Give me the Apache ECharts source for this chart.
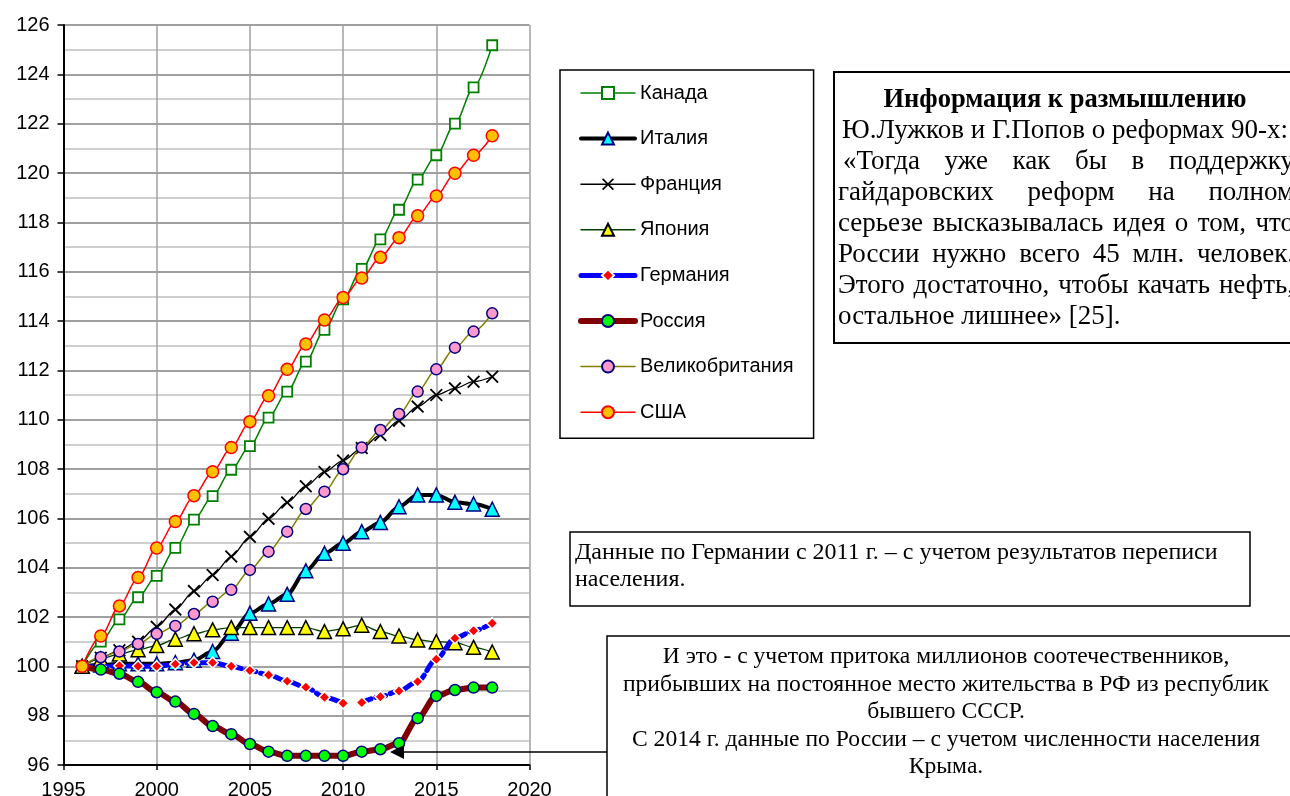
<!DOCTYPE html>
<html>
<head>
<meta charset="utf-8">
<script src="https://cdn.jsdelivr.net/npm/echarts/dist/echarts.min.js"></script>
<style>
  html, body { margin: 0; padding: 0; background: #ffffff; }
  #chart { width: 1290px; height: 796px; }
</style>
</head>
<body>
<div id="chart"></div>
<script>
// Population index, 1996 = 100
const years = [1996, 1997, 1998, 1999, 2000, 2001, 2002, 2003, 2004, 2005, 2006, 2007,
               2008, 2009, 2010, 2011, 2012, 2013, 2014, 2015, 2016, 2017, 2018];

const canada  = [100, 101.0, 101.9, 102.8, 103.67, 104.8, 105.95, 106.9, 107.97, 108.93, 110.08, 111.14,
                 112.35, 113.64, 114.88, 116.11, 117.31, 118.51, 119.73, 120.72, 122.0, 123.47, 125.18];
const italy   = [100, 100.05, 100.1, 100.1, 100.1, 100.15, 100.25, 100.6, 101.34, 102.15, 102.53, 102.92,
                 103.87, 104.58, 104.99, 105.46, 105.83, 106.47, 106.95, 106.95, 106.65, 106.58, 106.37];
const france  = [100, 100.35, 100.65, 101.0, 101.6, 102.3, 103.05, 103.7, 104.45, 105.25, 105.98, 106.64,
                 107.3, 107.88, 108.34, 108.85, 109.38, 109.96, 110.53, 111.0, 111.27, 111.54, 111.74];
const japan   = [100, 100.3, 100.5, 100.67, 100.84, 101.1, 101.32, 101.48, 101.57, 101.57, 101.57, 101.57,
                 101.57, 101.41, 101.52, 101.67, 101.41, 101.23, 101.07, 101.0, 100.96, 100.77, 100.58];
// Germany: series break in 2011 (census revision)
const germanyYearsA = [1996, 1997, 1998, 1999, 2000, 2001, 2002, 2003, 2004, 2005, 2006, 2007, 2008, 2009, 2010];
const germanyA      = [100, 99.98, 100.02, 100.0, 100.0, 100.09, 100.15, 100.15, 100.0, 99.83, 99.65, 99.4, 99.15, 98.75, 98.5];
const germanyYearsB = [2011, 2012, 2013, 2014, 2015, 2016, 2017, 2018];
const germanyB      = [98.53, 98.77, 99.0, 99.38, 100.29, 101.14, 101.44, 101.75];
const russia  = [100, 99.87, 99.7, 99.37, 98.95, 98.57, 98.07, 97.58, 97.25, 96.85, 96.54, 96.37,
                 96.37, 96.37, 96.37, 96.54, 96.64, 96.88, 97.9, 98.8, 99.04, 99.14, 99.14];
const uk      = [100, 100.37, 100.6, 100.91, 101.32, 101.64, 102.12, 102.62, 103.1, 103.91, 104.65, 105.46,
                 106.38, 107.08, 107.99, 108.87, 109.58, 110.23, 111.14, 112.04, 112.92, 113.57, 114.31];
const usa     = [100, 101.23, 102.45, 103.6, 104.8, 105.87, 106.92, 107.89, 108.87, 109.92, 110.97, 112.04,
                 113.07, 114.04, 114.95, 115.74, 116.58, 117.38, 118.27, 119.07, 119.99, 120.72, 121.51];

const names = ['Канада', 'Италия', 'Франция', 'Япония', 'Германия', 'Россия', 'Великобритания', 'США'];

const infoTitle = 'Информация к размышлению';
const infoLines = [
  'Ю.Лужков и Г.Попов о реформах 90-х:',
  '«Тогда уже как бы в поддержку',
  'гайдаровских реформ на полном',
  'серьезе высказывалась идея о том, что',
  'России нужно всего 45 млн. человек.',
  'Этого достаточно, чтобы качать нефть,',
  'остальное лишнее» [25].'
];
const germanyNote = [
  'Данные по Германии с 2011 г. – с учетом результатов переписи',
  'населения.'
];
const russiaNote = [
  'И это - с учетом притока миллионов соотечественников,',
  'прибывших на постоянное место жительства в РФ из республик',
  'бывшего СССР.',
  'С 2014 г. данные по России – с учетом численности населения',
  'Крыма.'
];

const pairs = (xs, ys) => xs.map((x, i) => [x, ys[i]]);
const crossPath = 'path://M1,0L5,4L9,0L10,1L6,5L10,9L9,10L5,6L1,10L0,9L4,5L0,1Z';

function lineSeries(name, xs, ys, o) {
  return {
    name: name,
    type: 'line',
    data: pairs(xs, ys),
    smooth: 0.3,
    smoothMonotone: 'x',
    showAllSymbol: true,
    symbol: o.symbol,
    symbolSize: o.size,
    lineStyle: { color: o.line, width: o.width, type: o.dash || 'solid', cap: 'round' },
    itemStyle: { color: o.fill, borderColor: o.border, borderWidth: o.bw },
    emphasis: { disabled: true },
    animation: false,
    z: o.z
  };
}

const sans = '"Liberation Sans", Arial, sans-serif';
const serif = '"Liberation Serif", "Times New Roman", serif';
const ctx = document.createElement('canvas').getContext('2d');

function textEl(str, x, y, font, align) {
  return {
    type: 'text', x: x, y: y, z: 100,
    style: { text: str, font: font, fill: '#000', align: align || 'left', verticalAlign: 'middle',
             textAlign: align || 'left', textVerticalAlign: 'middle' }
  };
}
// spread words of a line evenly between x0 and x1
function justifiedLine(str, x0, x1, y, font) {
  ctx.font = font;
  const words = str.split(' ');
  const widths = words.map(w => ctx.measureText(w).width);
  const total = widths.reduce((a, b) => a + b, 0);
  const gap = (x1 - x0 - total) / (words.length - 1);
  const out = [];
  let x = x0;
  words.forEach((w, i) => { out.push(textEl(w, x, y, font, 'left')); x += widths[i] + gap; });
  return out;
}

const infoFont = '27px ' + serif;
const noteFont = '23.6px ' + serif;
const graphics = [];

// information box
graphics.push({ type: 'rect', z: 90, shape: { x: 834, y: 72, width: 470, height: 271 },
                style: { fill: '#fff', stroke: '#000', lineWidth: 2 } });
graphics.push(textEl(infoTitle, 1065, 100, 'bold 26.5px ' + serif, 'center'));
graphics.push(textEl(infoLines[0], 1065, 131, infoFont, 'center'));
graphics.push(...justifiedLine(infoLines[1], 843, 1294, 162, infoFont));
graphics.push(...justifiedLine(infoLines[2], 838, 1294, 193, infoFont));
graphics.push(...justifiedLine(infoLines[3], 838, 1294, 224, infoFont));
graphics.push(...justifiedLine(infoLines[4], 838, 1294, 255, infoFont));
graphics.push(...justifiedLine(infoLines[5], 838, 1294, 286, infoFont));
graphics.push(textEl(infoLines[6], 838, 317, infoFont, 'left'));

// Germany note box
graphics.push({ type: 'rect', z: 90, shape: { x: 570, y: 532, width: 680, height: 74 },
                style: { fill: '#fff', stroke: '#000', lineWidth: 1.5 } });
germanyNote.forEach((s, i) => graphics.push(textEl(s, 575, 553 + i * 27, '24px ' + serif, 'left')));

// Russia note box with leader arrow
graphics.push({ type: 'rect', z: 90, shape: { x: 607, y: 636, width: 700, height: 180 },
                style: { fill: '#fff', stroke: '#000', lineWidth: 1.5 } });
russiaNote.forEach((s, i) => graphics.push(textEl(s, 946, 657 + i * 27.5, noteFont, 'center')));
graphics.push({ type: 'line', z: 95, shape: { x1: 607, y1: 752, x2: 400, y2: 752 },
                style: { stroke: '#000', lineWidth: 1.5 } });
graphics.push({ type: 'polygon', z: 95, shape: { points: [[390, 752], [404, 745], [404, 759]] },
                style: { fill: '#000' } });

// legend samples keep each series' line weight
const legendWidths = [1.5, 4, 1.5, 1.5, 5, 6, 1.5, 1.5];
const legendData = names.map((n, i) => ({ name: n, lineStyle: { width: legendWidths[i], type: 'solid', cap: 'round' } }));

const chart = echarts.init(document.getElementById('chart'), null, { renderer: 'canvas' });
chart.setOption({
  animation: false,
  backgroundColor: '#ffffff',
  grid: { left: 63.5, right: 760.5, top: 25, bottom: 31, containLabel: false, outerBoundsMode: 'none' },
  xAxis: {
    type: 'value', min: 1995, max: 2020, interval: 5,
    axisLine: { show: true, onZero: false, lineStyle: { color: '#000', width: 2 } },
    axisTick: { show: true, length: 5, lineStyle: { color: '#000', width: 1.5 } },
    axisLabel: { color: '#000', fontSize: 20, fontFamily: sans, margin: 15, formatter: v => String(v) },
    splitLine: { show: true, lineStyle: { color: '#a0a0a0', width: 1.5 } }
  },
  yAxis: {
    type: 'value', min: 96, max: 126, interval: 2,
    axisLine: { show: true, onZero: false, lineStyle: { color: '#000', width: 2 } },
    axisTick: { show: true, length: 6, lineStyle: { color: '#000', width: 1.5 } },
    axisLabel: { color: '#000', fontSize: 20, fontFamily: sans, margin: 14 },
    splitLine: { show: true, lineStyle: { color: '#808080', width: 1.5 } },
    minorTick: { show: false, splitNumber: 2 },
    minorSplitLine: { show: true, lineStyle: { color: '#c0c0c0', width: 1.5 } }
  },
  legend: {
    orient: 'vertical', left: 560, top: 70,
    padding: [12, 20, 15, 18],
    itemWidth: 54, itemHeight: 15, itemGap: 23.6,
    borderColor: '#000', borderWidth: 1.5, backgroundColor: '#fff',
    textStyle: { color: '#000', fontSize: 20, lineHeight: 22, fontFamily: sans },
    data: legendData,
    selectedMode: false
  },
  series: [
    lineSeries(names[0], years, canada,  { symbol: 'rect', size: 10, line: '#008000', width: 1.5, fill: '#ffffff', border: '#008000', bw: 1.8, z: 2 }),
    lineSeries(names[1], years, italy,   { symbol: 'triangle', size: 14, line: '#000000', width: 4, fill: '#00ffff', border: '#000080', bw: 1.5, z: 3 }),
    lineSeries(names[2], years, france,  { symbol: crossPath, size: 13, line: '#000000', width: 1.3, fill: '#000000', border: '#000000', bw: 0, z: 4 }),
    lineSeries(names[3], years, japan,   { symbol: 'triangle', size: 14, line: '#004000', width: 1.3, fill: '#ffff00', border: '#000000', bw: 1.5, z: 5 }),
    lineSeries(names[4], germanyYearsA, germanyA, { symbol: 'diamond', size: 11, line: '#0000ff', width: 5, dash: [10, 5], fill: '#ff0000', border: '#ffffff', bw: 1.5, z: 6 }),
    lineSeries(names[4], germanyYearsB, germanyB, { symbol: 'diamond', size: 11, line: '#0000ff', width: 5, dash: [10, 5], fill: '#ff0000', border: '#ffffff', bw: 1.5, z: 6 }),
    lineSeries(names[5], years, russia,  { symbol: 'circle', size: 11, line: '#800000', width: 6, fill: '#00ff00', border: '#000080', bw: 1.5, z: 7 }),
    lineSeries(names[6], years, uk,      { symbol: 'circle', size: 11, line: '#808000', width: 1.5, fill: '#ff99cc', border: '#000080', bw: 1.5, z: 8 }),
    lineSeries(names[7], years, usa,     { symbol: 'circle', size: 12, line: '#ff0000', width: 1.5, fill: '#ffc000', border: '#ff0000', bw: 1.5, z: 9 })
  ],
  graphic: { elements: graphics }
});
</script>
</body>
</html>
